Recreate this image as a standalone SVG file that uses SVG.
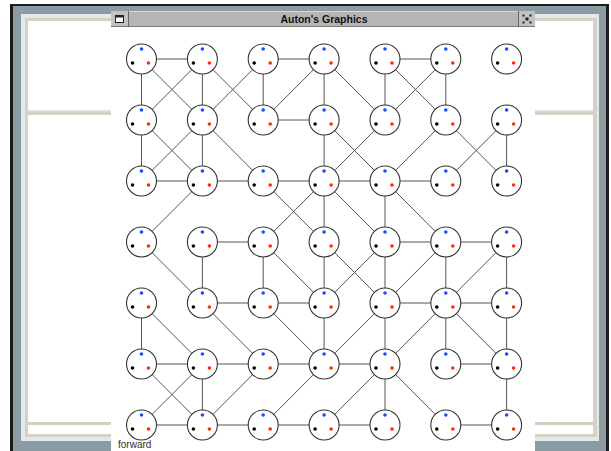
<svg xmlns="http://www.w3.org/2000/svg" width="611" height="451" viewBox="0 0 611 451">
<style>
.e{stroke:#555;stroke-width:1;fill:none}
.c{fill:#fff;stroke:#333;stroke-width:1.1}
.b{fill:#1a4cff}.k{fill:#000}.r{fill:#ff2a00}
.t{font-family:"Liberation Sans",Arial,sans-serif}
</style>
<rect width="611" height="451" fill="#fff"/>
<g id="back-window">
<rect x="10" y="4" width="599" height="447" fill="#1c1c1c"/>
<rect x="13" y="6" width="593" height="445" fill="#8a9ba3"/>
<rect x="21" y="14" width="578" height="427" fill="#e4e8e8"/>
<rect x="25" y="18" width="572" height="419" fill="#d2d2c6"/>
<rect x="28" y="21" width="565" height="413" fill="#fff"/>
<rect x="28" y="110" width="565" height="5" fill="#d0d0c4"/>
<rect x="28" y="110" width="565" height="1.5" fill="#e6e6de"/>
<rect x="28" y="422" width="565" height="3" fill="#d0d0c4"/>
</g>
<g id="front-window">
<rect x="111" y="27" width="424" height="424" fill="#fff"/>
<rect x="111" y="11" width="424" height="16" fill="#b5b5b5"/>
<rect x="111" y="11" width="424" height="1" fill="#d8d8d8"/>
<rect x="111" y="26" width="424" height="1" fill="#7a7a7a"/>
<rect x="111" y="11" width="17" height="15" fill="#c2c2c2"/>
<rect x="128" y="11" width="1" height="16" fill="#666"/>
<rect x="115.5" y="15.5" width="8" height="7" fill="#fff" stroke="#222"/>
<rect x="115.5" y="15.5" width="8" height="2" fill="#222"/>
<rect x="519" y="11" width="16" height="15" fill="#c2c2c2"/>
<rect x="518" y="11" width="1" height="16" fill="#666"/>
<g fill="#222">
<rect x="522.5" y="14.5" width="2" height="2"/><rect x="529.5" y="14.5" width="2" height="2"/>
<rect x="525.5" y="17.5" width="3" height="3"/>
<rect x="522.5" y="21.5" width="2" height="2"/><rect x="529.5" y="21.5" width="2" height="2"/>
</g>
<text class="t" x="324" y="22.5" font-size="10.5" font-weight="bold" text-anchor="middle" fill="#111">Auton's Graphics</text>
<text class="t" x="118" y="448" font-size="10" fill="#333">forward</text>
</g>
<g id="connectors">
<line class="e" x1="141.5" y1="59" x2="202.4" y2="59"/>
<line class="e" x1="263.2" y1="59" x2="324.1" y2="59"/>
<line class="e" x1="385" y1="59" x2="445.8" y2="59"/>
<line class="e" x1="141.5" y1="59" x2="141.5" y2="120"/>
<line class="e" x1="202.4" y1="59" x2="202.4" y2="120"/>
<line class="e" x1="263.2" y1="59" x2="263.2" y2="120"/>
<line class="e" x1="324.1" y1="59" x2="324.1" y2="120"/>
<line class="e" x1="385" y1="59" x2="385" y2="120"/>
<line class="e" x1="445.8" y1="59" x2="445.8" y2="120"/>
<line class="e" x1="141.5" y1="59" x2="202.4" y2="120"/>
<line class="e" x1="202.4" y1="59" x2="141.5" y2="120"/>
<line class="e" x1="202.4" y1="59" x2="263.2" y2="120"/>
<line class="e" x1="263.2" y1="59" x2="202.4" y2="120"/>
<line class="e" x1="324.1" y1="59" x2="263.2" y2="120"/>
<line class="e" x1="324.1" y1="59" x2="385" y2="120"/>
<line class="e" x1="385" y1="59" x2="445.8" y2="120"/>
<line class="e" x1="445.8" y1="59" x2="385" y2="120"/>
<line class="e" x1="263.2" y1="120" x2="324.1" y2="120"/>
<line class="e" x1="141.5" y1="120" x2="141.5" y2="181"/>
<line class="e" x1="202.4" y1="120" x2="202.4" y2="181"/>
<line class="e" x1="324.1" y1="120" x2="324.1" y2="181"/>
<line class="e" x1="506.6" y1="120" x2="506.6" y2="181"/>
<line class="e" x1="141.5" y1="120" x2="202.4" y2="181"/>
<line class="e" x1="202.4" y1="120" x2="141.5" y2="181"/>
<line class="e" x1="202.4" y1="120" x2="263.2" y2="181"/>
<line class="e" x1="324.1" y1="120" x2="385" y2="181"/>
<line class="e" x1="385" y1="120" x2="324.1" y2="181"/>
<line class="e" x1="445.8" y1="120" x2="385" y2="181"/>
<line class="e" x1="445.8" y1="120" x2="506.6" y2="181"/>
<line class="e" x1="506.6" y1="120" x2="445.8" y2="181"/>
<line class="e" x1="141.5" y1="181" x2="202.4" y2="181"/>
<line class="e" x1="202.4" y1="181" x2="263.2" y2="181"/>
<line class="e" x1="263.2" y1="181" x2="324.1" y2="181"/>
<line class="e" x1="324.1" y1="181" x2="385" y2="181"/>
<line class="e" x1="385" y1="181" x2="445.8" y2="181"/>
<line class="e" x1="324.1" y1="181" x2="324.1" y2="242"/>
<line class="e" x1="385" y1="181" x2="385" y2="242"/>
<line class="e" x1="202.4" y1="181" x2="141.5" y2="242"/>
<line class="e" x1="263.2" y1="181" x2="324.1" y2="242"/>
<line class="e" x1="324.1" y1="181" x2="263.2" y2="242"/>
<line class="e" x1="324.1" y1="181" x2="385" y2="242"/>
<line class="e" x1="385" y1="181" x2="445.8" y2="242"/>
<line class="e" x1="202.4" y1="242" x2="263.2" y2="242"/>
<line class="e" x1="385" y1="242" x2="445.8" y2="242"/>
<line class="e" x1="445.8" y1="242" x2="506.6" y2="242"/>
<line class="e" x1="202.4" y1="242" x2="202.4" y2="303"/>
<line class="e" x1="263.2" y1="242" x2="263.2" y2="303"/>
<line class="e" x1="324.1" y1="242" x2="324.1" y2="303"/>
<line class="e" x1="385" y1="242" x2="385" y2="303"/>
<line class="e" x1="445.8" y1="242" x2="445.8" y2="303"/>
<line class="e" x1="506.6" y1="242" x2="506.6" y2="303"/>
<line class="e" x1="141.5" y1="242" x2="202.4" y2="303"/>
<line class="e" x1="263.2" y1="242" x2="324.1" y2="303"/>
<line class="e" x1="324.1" y1="242" x2="385" y2="303"/>
<line class="e" x1="385" y1="242" x2="324.1" y2="303"/>
<line class="e" x1="445.8" y1="242" x2="385" y2="303"/>
<line class="e" x1="506.6" y1="242" x2="445.8" y2="303"/>
<line class="e" x1="202.4" y1="303" x2="263.2" y2="303"/>
<line class="e" x1="263.2" y1="303" x2="324.1" y2="303"/>
<line class="e" x1="385" y1="303" x2="445.8" y2="303"/>
<line class="e" x1="445.8" y1="303" x2="506.6" y2="303"/>
<line class="e" x1="141.5" y1="303" x2="141.5" y2="364"/>
<line class="e" x1="324.1" y1="303" x2="324.1" y2="364"/>
<line class="e" x1="385" y1="303" x2="385" y2="364"/>
<line class="e" x1="445.8" y1="303" x2="445.8" y2="364"/>
<line class="e" x1="506.6" y1="303" x2="506.6" y2="364"/>
<line class="e" x1="141.5" y1="303" x2="202.4" y2="364"/>
<line class="e" x1="202.4" y1="303" x2="263.2" y2="364"/>
<line class="e" x1="263.2" y1="303" x2="324.1" y2="364"/>
<line class="e" x1="385" y1="303" x2="324.1" y2="364"/>
<line class="e" x1="445.8" y1="303" x2="385" y2="364"/>
<line class="e" x1="445.8" y1="303" x2="506.6" y2="364"/>
<line class="e" x1="141.5" y1="364" x2="202.4" y2="364"/>
<line class="e" x1="202.4" y1="364" x2="263.2" y2="364"/>
<line class="e" x1="263.2" y1="364" x2="324.1" y2="364"/>
<line class="e" x1="324.1" y1="364" x2="385" y2="364"/>
<line class="e" x1="445.8" y1="364" x2="506.6" y2="364"/>
<line class="e" x1="202.4" y1="364" x2="202.4" y2="425"/>
<line class="e" x1="385" y1="364" x2="385" y2="425"/>
<line class="e" x1="506.6" y1="364" x2="506.6" y2="425"/>
<line class="e" x1="141.5" y1="364" x2="202.4" y2="425"/>
<line class="e" x1="202.4" y1="364" x2="141.5" y2="425"/>
<line class="e" x1="263.2" y1="364" x2="202.4" y2="425"/>
<line class="e" x1="324.1" y1="364" x2="263.2" y2="425"/>
<line class="e" x1="385" y1="364" x2="324.1" y2="425"/>
<line class="e" x1="385" y1="364" x2="445.8" y2="425"/>
<line class="e" x1="141.5" y1="425" x2="202.4" y2="425"/>
<line class="e" x1="202.4" y1="425" x2="263.2" y2="425"/>
<line class="e" x1="263.2" y1="425" x2="324.1" y2="425"/>
<line class="e" x1="324.1" y1="425" x2="385" y2="425"/>
<line class="e" x1="445.8" y1="425" x2="506.6" y2="425"/>
</g>
<defs>
<g id="node">
<circle class="c" r="15"/>
<circle class="b" cx="0" cy="-10" r="1.8"/>
<circle class="k" cx="-9" cy="4" r="1.8"/>
<circle class="r" cx="7" cy="4" r="1.8"/>
</g>
</defs>
<g id="nodes">
<g id="n00"><use href="#node" x="141.5" y="59"/></g>
<g id="n10"><use href="#node" x="202.4" y="59"/></g>
<g id="n20"><use href="#node" x="263.2" y="59"/></g>
<g id="n30"><use href="#node" x="324.1" y="59"/></g>
<g id="n40"><use href="#node" x="385" y="59"/></g>
<g id="n50"><use href="#node" x="445.8" y="59"/></g>
<g id="n60"><use href="#node" x="506.6" y="59"/></g>
<g id="n01"><use href="#node" x="141.5" y="120"/></g>
<g id="n11"><use href="#node" x="202.4" y="120"/></g>
<g id="n21"><use href="#node" x="263.2" y="120"/></g>
<g id="n31"><use href="#node" x="324.1" y="120"/></g>
<g id="n41"><use href="#node" x="385" y="120"/></g>
<g id="n51"><use href="#node" x="445.8" y="120"/></g>
<g id="n61"><use href="#node" x="506.6" y="120"/></g>
<g id="n02"><use href="#node" x="141.5" y="181"/></g>
<g id="n12"><use href="#node" x="202.4" y="181"/></g>
<g id="n22"><use href="#node" x="263.2" y="181"/></g>
<g id="n32"><use href="#node" x="324.1" y="181"/></g>
<g id="n42"><use href="#node" x="385" y="181"/></g>
<g id="n52"><use href="#node" x="445.8" y="181"/></g>
<g id="n62"><use href="#node" x="506.6" y="181"/></g>
<g id="n03"><use href="#node" x="141.5" y="242"/></g>
<g id="n13"><use href="#node" x="202.4" y="242"/></g>
<g id="n23"><use href="#node" x="263.2" y="242"/></g>
<g id="n33"><use href="#node" x="324.1" y="242"/></g>
<g id="n43"><use href="#node" x="385" y="242"/></g>
<g id="n53"><use href="#node" x="445.8" y="242"/></g>
<g id="n63"><use href="#node" x="506.6" y="242"/></g>
<g id="n04"><use href="#node" x="141.5" y="303"/></g>
<g id="n14"><use href="#node" x="202.4" y="303"/></g>
<g id="n24"><use href="#node" x="263.2" y="303"/></g>
<g id="n34"><use href="#node" x="324.1" y="303"/></g>
<g id="n44"><use href="#node" x="385" y="303"/></g>
<g id="n54"><use href="#node" x="445.8" y="303"/></g>
<g id="n64"><use href="#node" x="506.6" y="303"/></g>
<g id="n05"><use href="#node" x="141.5" y="364"/></g>
<g id="n15"><use href="#node" x="202.4" y="364"/></g>
<g id="n25"><use href="#node" x="263.2" y="364"/></g>
<g id="n35"><use href="#node" x="324.1" y="364"/></g>
<g id="n45"><use href="#node" x="385" y="364"/></g>
<g id="n55"><use href="#node" x="445.8" y="364"/></g>
<g id="n65"><use href="#node" x="506.6" y="364"/></g>
<g id="n06"><use href="#node" x="141.5" y="425"/></g>
<g id="n16"><use href="#node" x="202.4" y="425"/></g>
<g id="n26"><use href="#node" x="263.2" y="425"/></g>
<g id="n36"><use href="#node" x="324.1" y="425"/></g>
<g id="n46"><use href="#node" x="385" y="425"/></g>
<g id="n56"><use href="#node" x="445.8" y="425"/></g>
<g id="n66"><use href="#node" x="506.6" y="425"/></g>
</g>
</svg>
